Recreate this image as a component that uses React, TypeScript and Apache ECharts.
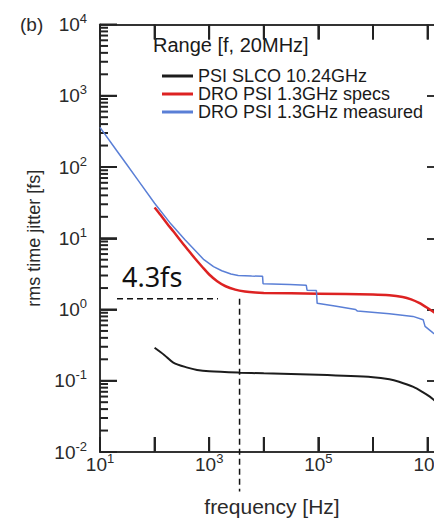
import React, { useEffect, useRef } from 'react';
import * as echarts from 'echarts';

// ---- data ----
const SERIES_NAMES = ['PSI SLCO 10.24GHz', 'DRO PSI 1.3GHz specs', 'DRO PSI 1.3GHz measured'];

// [frequency Hz, rms jitter fs]
const PSI_SLCO = [
  [100, 0.29], [150, 0.23], [220, 0.18], [400, 0.153], [600, 0.142], [1000, 0.136],
  [3600, 0.13], [1e4, 0.127], [1e5, 0.121], [1e6, 0.112], [2e6, 0.105], [3e6, 0.097],
  [5.5e6, 0.082], [8e6, 0.07], [1.1e7, 0.06], [1.3e7, 0.054], [2e7, 0.04],
];
const DRO_SPECS = [
  [100, 27], [130, 21], [170, 16], [220, 12.5], [300, 9.2], [400, 7.0], [550, 5.2],
  [750, 3.95], [1000, 3.1], [1400, 2.5], [2000, 2.12], [3000, 1.9], [4500, 1.79],
  [7000, 1.73], [1e4, 1.71], [1e5, 1.67], [1e6, 1.63], [2e6, 1.59], [3.5e6, 1.5],
  [5e6, 1.39], [7e6, 1.24], [1e7, 1.05], [1.4e7, 0.88], [2e7, 0.7],
];
const DRO_MEASURED = [
  [10, 360], [20, 172], [30, 112], [50, 65], [100, 31], [200, 15.8], [360, 9.5],
  [600, 6.3], [800, 5.0], [1200, 4.0], [1700, 3.5], [2500, 3.15], [3400, 3.0],
  [6000, 2.95], [9500, 2.92], [9700, 2.3], [3e4, 2.24], [6e4, 2.19], [6.2e4, 1.87],
  [9.2e4, 1.85], [9.5e4, 1.22], [2e5, 1.12], [4.8e5, 1.0], [5.2e5, 0.95], [2e6, 0.87],
  [5.4e6, 0.8], [8.3e6, 0.72], [9e6, 0.58], [1.26e7, 0.47], [2e7, 0.36],
];
const H_DASH = [[20.5, 1.42], [1450, 1.42]];
const V_DASH = [[3600, 1.42], [3600, 0.0028]];

const X_MIN = 10;
const X_MAX = 2e7;
const Y_MIN = 0.01;
const Y_MAX = 1e4;
const X_DECADES = [1, 2, 3, 4, 5, 6, 7];
const Y_DECADES = [-2, -1, 0, 1, 2, 3, 4];
const MINOR_MULTS = [2, 3, 4, 5, 6, 7, 8, 9];

const ANNOTATION = '4.3fs';
const LEGEND_TITLE = 'Range [f, 20MHz]';
const PANEL = '(b)';
const X_NAME = 'frequency [Hz]';
const Y_NAME = 'rms time jitter [fs]';

const COLORS = ['#1c1c1c', '#dd2222', '#5a7fd6'];
const AXIS_COLOR = '#333333';
const FRAME = '#222222';
const TEXT = '#2a2a2a';
const FONT = '"Liberation Sans", Arial, sans-serif';

const supLabel = (v: number, oddOnly: boolean) => {
  const e = Math.log10(v);
  const r = Math.round(e);
  if (Math.abs(e - r) > 1e-6) return '';
  if (oddOnly && Math.abs(r % 2) !== 1) return '';
  return `{b|10}{s|${r}}`;
};

const makeRich = () => ({
  b: { fontSize: 19, lineHeight: 19, padding: [15, 0, 0, 0], verticalAlign: 'bottom', fontFamily: FONT, color: TEXT },
  s: { fontSize: 13, lineHeight: 13, padding: [0, 0, 9, 0], verticalAlign: 'bottom', fontFamily: FONT, color: TEXT },
});

export default function App() {
  const ref = useRef<HTMLDivElement>(null);
  useEffect(() => {
    if (!ref.current) return;
    const chart = echarts.init(ref.current, undefined, { renderer: 'svg' });

    // tick marks drawn through the axes' own scales: [kind, x, y]
    // kind 0: left minor tick, 1: left major tick, 2: top major tick, 3: bottom major tick
    const tickItems: number[][] = [];
    Y_DECADES.forEach((d) => {
      tickItems.push([1, X_MIN, Math.pow(10, d)]);
      if (d < 4) MINOR_MULTS.forEach((m) => tickItems.push([0, X_MIN, m * Math.pow(10, d)]));
    });
    X_DECADES.forEach((d) => {
      tickItems.push([2, Math.pow(10, d), Y_MAX]);
      tickItems.push([3, Math.pow(10, d), Y_MIN]);
    });

    const lineSeries = (name: string, data: number[][], color: string, width: number, smooth: any) => ({
      name,
      type: 'line',
      data,
      showSymbol: false,
      symbol: 'none',
      smooth,
      lineStyle: { color, width },
      itemStyle: { color },
    });

    const axisLine = () => ({ show: true, lineStyle: { color: AXIS_COLOR, width: 2 } });
    const axisTick = (length: number) => ({ show: true, inside: true, length, lineStyle: { color: AXIS_COLOR, width: 2 } });

    chart.setOption({
      animation: false,
      grid: { left: 100, top: 18, right: 36, bottom: 69 },
      xAxis: [
        {
          type: 'log', logBase: 10, min: X_MIN, max: X_MAX, position: 'bottom',
          name: X_NAME, nameLocation: 'middle', nameGap: 44,
          nameTextStyle: { fontSize: 21, fontFamily: FONT, color: TEXT },
          axisLine: axisLine(),
          axisTick: axisTick(15),
          axisLabel: { show: true, margin: 3, formatter: (v: number) => supLabel(v, true), rich: makeRich() },
          splitLine: { show: false },
        },
        {
          type: 'log', logBase: 10, min: X_MIN, max: X_MAX, position: 'top',
          axisLine: axisLine(),
          axisTick: axisTick(15),
          axisLabel: { show: false },
          splitLine: { show: false },
        },
      ],
      yAxis: [
        {
          type: 'log', logBase: 10, min: Y_MIN, max: Y_MAX, position: 'left',
          name: Y_NAME, nameLocation: 'middle', nameGap: 57,
          nameTextStyle: { fontSize: 18, fontFamily: FONT, color: TEXT },
          axisLine: axisLine(),
          axisTick: axisTick(17),
          axisLabel: { show: true, margin: 13, formatter: (v: number) => supLabel(v, false), rich: makeRich() },
          splitLine: { show: false },
        },
        {
          type: 'log', logBase: 10, min: Y_MIN, max: Y_MAX, position: 'right',
          axisLine: axisLine(),
          axisTick: axisTick(17),
          axisLabel: { show: false },
          splitLine: { show: false },
        },
      ],
      legend: {
        data: SERIES_NAMES,
        orient: 'vertical',
        left: 157,
        top: 62,
        icon: 'rect',
        itemWidth: 31,
        itemHeight: 3,
        itemGap: 0,
        selectedMode: false,
        textStyle: { fontSize: 18, lineHeight: 18, fontFamily: FONT, color: '#1a1a1a' },
      },
      graphic: [
        { type: 'text', left: 153, top: 35, style: { text: LEGEND_TITLE, fontSize: 20, fontFamily: FONT, fill: '#1a1a1a' } },
        { type: 'text', left: 20, top: 15, style: { text: PANEL, fontSize: 19, fontFamily: FONT, fill: TEXT } },
        { type: 'text', left: 122, top: 263, style: { text: ANNOTATION, fontSize: 27, fontFamily: '"Noto Sans", "Open Sans", sans-serif', fill: '#111' } },
      ],
      series: [
        lineSeries(SERIES_NAMES[0], PSI_SLCO, COLORS[0], 2, 0.3),
        lineSeries(SERIES_NAMES[1], DRO_SPECS, COLORS[1], 2.5, 0.3),
        lineSeries(SERIES_NAMES[2], DRO_MEASURED, COLORS[2], 1.5, false),
        {
          name: 'hdash', type: 'line', data: H_DASH, showSymbol: false, symbol: 'none', clip: false,
          lineStyle: { color: '#111', width: 1.5, type: [6, 4] },
        },
        {
          name: 'vdash', type: 'line', data: V_DASH, showSymbol: false, symbol: 'none', clip: false,
          lineStyle: { color: '#111', width: 1.5, type: [6, 4] },
        },
        {
          name: 'frameTicks', type: 'custom',
          encode: { x: 1, y: 2 },
          data: tickItems,
          renderItem: (params: any, api: any) => {
            const kind = api.value(0);
            const p = api.coord([api.value(1), api.value(2)]);
            let shape;
            if (kind === 0) shape = { x1: p[0], y1: p[1], x2: p[0] + 8, y2: p[1] };
            else if (kind === 1) shape = { x1: p[0], y1: p[1], x2: p[0] + 17, y2: p[1] };
            else if (kind === 2) shape = { x1: p[0], y1: p[1], x2: p[0], y2: p[1] + 15 };
            else shape = { x1: p[0], y1: p[1], x2: p[0], y2: p[1] - 15 };
            return { type: 'line', shape, style: { stroke: FRAME, lineWidth: 2 } };
          },
        },
      ],
    });
    return () => chart.dispose();
  }, []);

  return (
    <div style={{ position: 'fixed', left: 0, top: 0, width: 434, height: 522, overflow: 'hidden', background: '#fff' }}>
      <div ref={ref} style={{ width: 480, height: 522 }} />
    </div>
  );
}
